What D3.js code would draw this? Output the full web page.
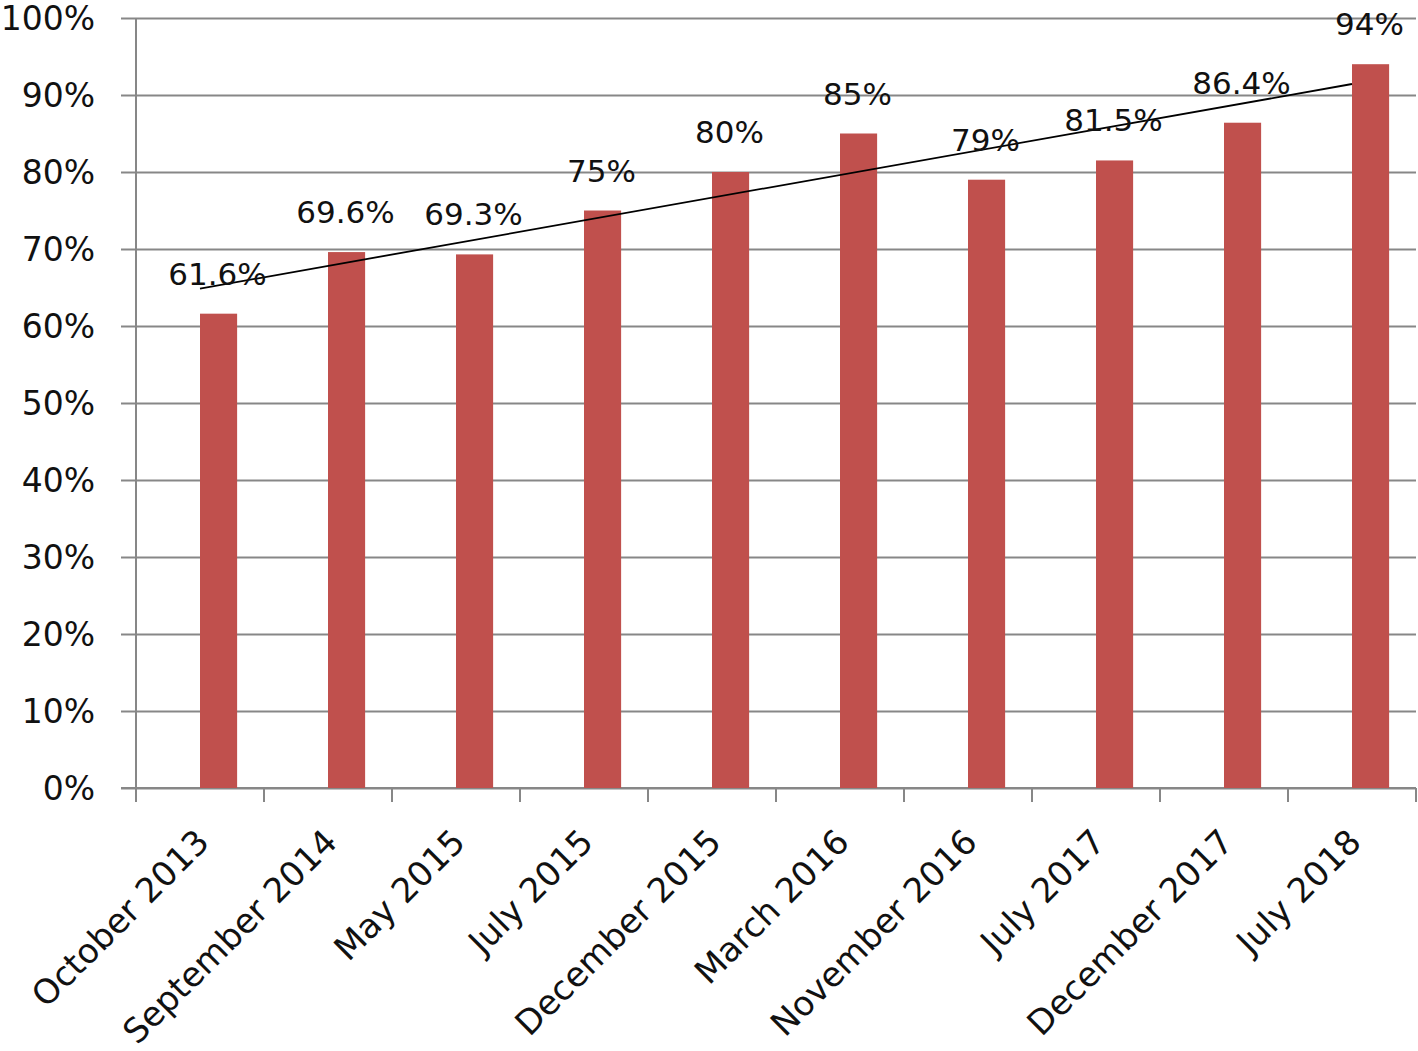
<!DOCTYPE html>
<html lang="en">
<head>
    <meta charset="UTF-8">
    <title>Survey results</title>
    <script src="https://d3js.org/d3.v7.min.js"></script>
    <style>
        body { margin: 0; background: #fff; }
        text { font-family: "DejaVu Sans", Verdana, sans-serif; fill: #111; }
    </style>
</head>
<body>

<svg></svg>

<script>

    const categories = ['October 2013', 'September 2014', 'May 2015', 'July 2015', 'December 2015',
        'March 2016', 'November 2016', 'July 2017', 'December 2017', 'July 2018'];
    const values = [61.6, 69.6, 69.3, 75, 80, 85, 79, 81.5, 86.4, 94];
    const valueLabels = ['61.6%', '69.6%', '69.3%', '75%', '80%', '85%', '79%', '81.5%', '86.4%', '94%'];
    const yTicks = [0, 10, 20, 30, 40, 50, 60, 70, 80, 90, 100];

    const width = 1418;
    const height = 1051;
    const margin = {top: 18, right: 2, bottom: 263, left: 136};
    const plotW = width - margin.left - margin.right;
    const plotH = height - margin.top - margin.bottom;

    const svg = d3.select('svg')
        .attr('width', width)
        .attr('height', height);

    const xScale = d3.scaleBand().domain(categories).range([margin.left, margin.left + plotW]).padding(0);
    const yScale = d3.scaleLinear().domain([0, 100]).range([margin.top + plotH, margin.top]);

    const bw = xScale.bandwidth();
    const barW = bw * 0.29;

    // gridlines + y labels
    const yAxis = d3.axisLeft(yScale)
        .tickValues(yTicks)
        .tickFormat(d => d + '%')
        .tickSize(-(plotW + 15))
        .tickPadding(26);

    const yG = svg.append('g')
        .attr('transform', `translate(${margin.left - 15}, 0)`)
        .call(yAxis);
    yG.select('.domain').remove();
    yG.selectAll('line').attr('stroke', '#878787').attr('stroke-width', 2);
    yG.selectAll('text')
        .attr('dy', '0.36em')
        .style('font-size', '33px')
        .style('font-family', '"DejaVu Sans", Verdana, sans-serif')
        .attr('fill', '#111');

    // y axis line
    svg.append('line')
        .attr('x1', margin.left).attr('x2', margin.left)
        .attr('y1', yScale(100)).attr('y2', yScale(0) + 14)
        .attr('stroke', '#878787').attr('stroke-width', 2);

    // x axis line + boundary ticks
    svg.append('line')
        .attr('x1', margin.left - 15).attr('x2', margin.left + plotW)
        .attr('y1', yScale(0)).attr('y2', yScale(0))
        .attr('stroke', '#878787').attr('stroke-width', 2);

    const bounds = categories.map(c => xScale(c)).concat([margin.left + plotW]);
    svg.append('g')
        .selectAll('line')
        .data(bounds)
        .enter()
        .append('line')
        .attr('x1', d => d).attr('x2', d => d)
        .attr('y1', yScale(0)).attr('y2', yScale(0) + 14)
        .attr('stroke', '#878787').attr('stroke-width', 2);

    // bars, sitting just right of the category centre
    svg.append('g')
        .selectAll('rect')
        .data(values)
        .enter()
        .append('rect')
        .attr('x', (d, i) => xScale(categories[i]) + bw / 2)
        .attr('y', d => yScale(d))
        .attr('width', barW)
        .attr('height', d => yScale(0) - yScale(d))
        .attr('fill', '#C0504D');

    // linear trendline
    const n = values.length;
    const meanX = d3.mean(values, (d, i) => i);
    const meanY = d3.mean(values);
    const slope = d3.sum(values, (d, i) => (i - meanX) * (d - meanY)) / d3.sum(values, (d, i) => (i - meanX) ** 2);
    const intercept = meanY - slope * meanX;

    svg.append('line')
        .attr('x1', xScale(categories[0]) + bw / 2)
        .attr('x2', xScale(categories[n - 1]) + bw / 2)
        .attr('y1', yScale(intercept))
        .attr('y2', yScale(intercept + slope * (n - 1)))
        .attr('stroke', '#000')
        .attr('stroke-width', 1.8);

    // value labels
    svg.append('g')
        .selectAll('text')
        .data(values)
        .enter()
        .append('text')
        .text((d, i) => valueLabels[i])
        .attr('x', (d, i) => xScale(categories[i]) + bw / 2 + barW / 2 - 1)
        .attr('y', d => yScale(d) - 29)
        .attr('text-anchor', 'middle')
        .style('font-size', '31px');

    // category labels
    svg.append('g')
        .selectAll('text')
        .data(categories)
        .enter()
        .append('text')
        .text(d => d)
        .attr('text-anchor', 'end')
        .attr('transform', d => `translate(${xScale(d) + bw / 2 + 11}, ${yScale(0) + 56}) rotate(-45)`)
        .style('font-size', '34px');

</script>

</body>
</html>
